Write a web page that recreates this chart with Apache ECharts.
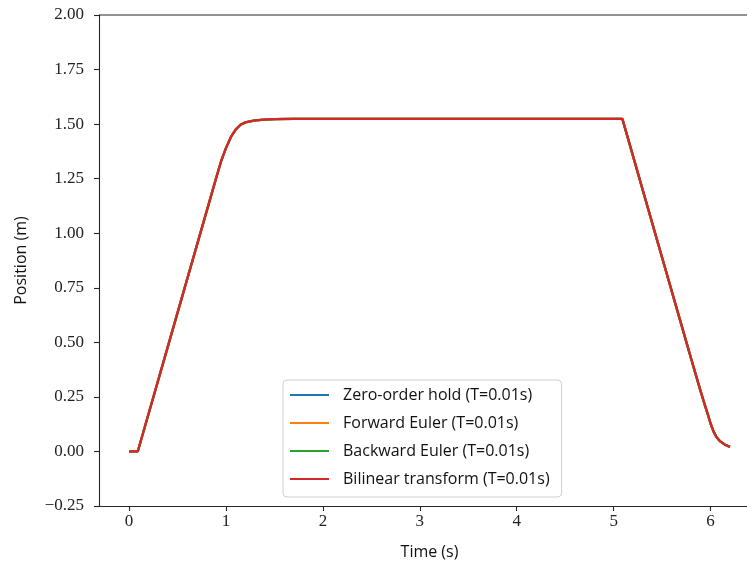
<!DOCTYPE html>
<html>
<head>
<meta charset="utf-8">
<script src="https://cdn.jsdelivr.net/npm/echarts@6/dist/echarts.min.js"></script>
<style>
  html, body { margin: 0; padding: 0; background: #fff; }
  #chart { width: 747px; height: 563px; }
</style>
</head>
<body>
<div id="chart"></div>
<script>
// Time samples (s) of the simulated trajectory
const timeS = [0, 0.09, 0.5, 0.9, 0.95, 1.0, 1.05, 1.1, 1.15, 1.2, 1.3, 1.4, 1.5, 1.7, 2.0, 3.0, 4.0, 5.0, 5.09,
  5.5, 5.8, 5.9, 5.95, 5.98, 6.0, 6.03, 6.06, 6.1, 6.15, 6.2];

// Position (m) for each discretisation method
const zeroOrderHold = [0, 0, 0.635, 1.255, 1.33, 1.39, 1.44, 1.475, 1.497, 1.508, 1.517, 1.521, 1.523, 1.524, 1.524, 1.524, 1.524, 1.524, 1.524,
  0.888, 0.424, 0.272, 0.2, 0.158, 0.128, 0.092, 0.066, 0.046, 0.031, 0.021];
const forwardEuler = [0, 0, 0.635, 1.255, 1.33, 1.39, 1.44, 1.475, 1.497, 1.508, 1.517, 1.521, 1.523, 1.524, 1.524, 1.524, 1.524, 1.524, 1.524,
  0.888, 0.424, 0.272, 0.2, 0.158, 0.128, 0.092, 0.066, 0.046, 0.031, 0.021];
const backwardEuler = [0, 0, 0.635, 1.255, 1.33, 1.39, 1.44, 1.475, 1.497, 1.508, 1.517, 1.521, 1.523, 1.524, 1.524, 1.524, 1.524, 1.524, 1.524,
  0.888, 0.424, 0.272, 0.2, 0.158, 0.128, 0.092, 0.066, 0.046, 0.031, 0.021];
const bilinear = [0, 0, 0.635, 1.255, 1.33, 1.39, 1.44, 1.475, 1.497, 1.508, 1.517, 1.521, 1.523, 1.524, 1.524, 1.524, 1.524, 1.524, 1.524,
  0.888, 0.424, 0.272, 0.2, 0.158, 0.128, 0.092, 0.066, 0.046, 0.031, 0.021];

const seriesNames = [
  'Zero-order hold (T=0.01s)',
  'Forward Euler (T=0.01s)',
  'Backward Euler (T=0.01s)',
  'Bilinear transform (T=0.01s)'
];
const seriesValues = [zeroOrderHold, forwardEuler, backwardEuler, bilinear];
const seriesColors = ['#1f77b4', '#ff7f0e', '#2ca02c', '#d62728'];

const xTicks = [0, 1, 2, 3, 4, 5, 6];

const serifFont = '"Liberation Serif", "DejaVu Serif", serif';
const sansFont = '"Open Sans", Lato, "DejaVu Sans", sans-serif';

const chart = echarts.init(document.getElementById('chart'), null, { renderer: 'canvas' });

const axisLineStyle = { color: '#262626', width: 1.1 };

// Plot area; the axes box runs past the right edge of the canvas
const plotLeft = 99, plotTop = 15, plotWidth = 661, plotHeight = 491;

chart.setOption({
  animation: false,
  backgroundColor: '#fff',
  grid: { left: plotLeft, top: plotTop, width: plotWidth, height: plotHeight,
    containLabel: false, outerBoundsMode: 'none' },
  xAxis: {
    type: 'value',
    min: -0.31,
    max: 6.51,
    name: 'Time (s)',
    nameLocation: 'middle',
    nameGap: 38,
    nameTextStyle: { fontFamily: sansFont, fontSize: 16, color: '#111' },
    axisLine: { show: true, onZero: false, lineStyle: axisLineStyle },
    axisTick: { show: true, inside: false, length: 5, lineStyle: axisLineStyle, customValues: xTicks },
    axisLabel: { fontFamily: serifFont, fontSize: 17, color: '#222', margin: 7, customValues: xTicks,
      formatter: v => String(v) },
    splitLine: { show: false }
  },
  yAxis: {
    type: 'value',
    min: -0.25,
    max: 2.0,
    interval: 0.25,
    name: 'Position (m)',
    nameLocation: 'middle',
    nameGap: 70,
    nameRotate: 90,
    nameTextStyle: { fontFamily: sansFont, fontSize: 16, color: '#111' },
    axisLine: { show: true, onZero: false, lineStyle: axisLineStyle },
    axisTick: { show: true, inside: false, length: 5, lineStyle: axisLineStyle },
    axisLabel: { fontFamily: serifFont, fontSize: 17, color: '#222', margin: 15,
      formatter: v => (v < 0 ? '\u2212' + Math.abs(v).toFixed(2) : v.toFixed(2)) },
    splitLine: { show: false }
  },
  legend: {
    orient: 'vertical',
    left: 283,
    top: 380,
    padding: [5, 12, 8, 7],
    itemGap: 8,
    itemWidth: 39,
    itemHeight: 2,
    icon: 'rect',
    backgroundColor: 'rgba(255,255,255,0.8)',
    borderColor: '#d0d0d0',
    borderWidth: 1,
    borderRadius: 4,
    textStyle: { fontFamily: sansFont, fontSize: 16, color: '#111', lineHeight: 20, padding: [0, 0, 0, 9] },
    data: seriesNames
  },
  series: seriesNames.map((name, i) => ({
    name: name,
    type: 'line',
    showSymbol: false,
    symbol: 'none',
    smooth: false,
    color: seriesColors[i],
    lineStyle: { color: seriesColors[i], width: 2.3 },
    data: timeS.map((t, k) => [t, seriesValues[i][k]]),
    z: 2 + i
  })),
  graphic: [{
    // top spine
    type: 'line',
    shape: { x1: plotLeft, y1: plotTop, x2: 747, y2: plotTop },
    style: { stroke: '#262626', lineWidth: 1.1 },
    silent: true
  }]
});
</script>
</body>
</html>
